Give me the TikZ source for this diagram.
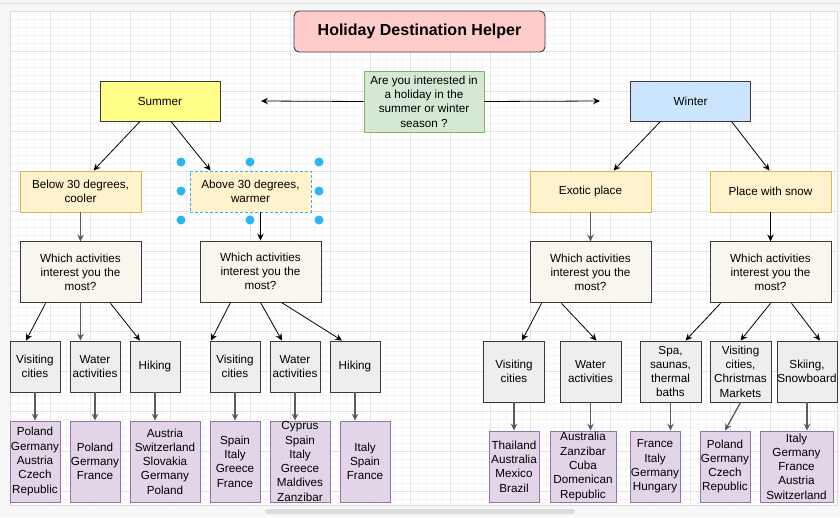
\documentclass[tikz,border=0pt]{standalone}
\usepackage{fontspec}
\setmainfont{Liberation Sans}
\usetikzlibrary{arrows.meta,positioning}
\definecolor{cLine}    {HTML}{36393D}
\definecolor{cTitle}   {HTML}{FFCCCC}
\definecolor{cAsk}     {HTML}{D5E8D4}
\definecolor{cAskLine} {HTML}{82B366}
\definecolor{cSummer}  {HTML}{FFFF88}
\definecolor{cWinter}  {HTML}{CCE5FF}
\definecolor{cKind}    {HTML}{FFF2CC}
\definecolor{cKindLine}{HTML}{D6B656}
\definecolor{cWhich}   {HTML}{F9F7ED}
\definecolor{cAct}     {HTML}{EEEEEE}
\definecolor{cDest}    {HTML}{E1D5E7}
\definecolor{cDestLine}{HTML}{9673A6}
\definecolor{cArrow}   {HTML}{5A5A5A}
\definecolor{cGridMin} {HTML}{F4F4F4}
\definecolor{cGridMaj} {HTML}{E2E2E2}
\definecolor{cBack}    {HTML}{F7F7F7}
\definecolor{cEdge}    {HTML}{DDDDDD}
\definecolor{cThumb}   {HTML}{DCDCDC}
\definecolor{cSel}     {HTML}{29B6F2}

\begin{document}
\begin{tikzpicture}[
  x=1pt, y=-1pt,
  font=\fontsize{11.7}{14.3}\selectfont,
  box/.style={
    draw=cLine, line width=0.9pt, align=center, inner xsep=0pt, inner ysep=1pt},
  title/.style ={box, rounded corners=5pt, fill=cTitle, minimum width=251pt,
                 minimum height=41pt, font=\fontsize{16}{19}\selectfont\bfseries},
  ask/.style   ={box, draw=cAskLine, fill=cAsk, minimum width=120pt, minimum height=61pt},
  season/.style={box, minimum width=120pt, minimum height=40pt},
  kind/.style  ={box, draw=cKindLine, fill=cKind, minimum width=121pt, minimum height=41pt},
  which/.style ={box, fill=cWhich, minimum width=121pt, minimum height=61pt},
  act/.style   ={box, fill=cAct, minimum width=50pt, minimum height=51pt},
  actw/.style  ={act, minimum width=61pt, minimum height=61pt},
  dest/.style  ={box, draw=cDestLine, fill=cDest, minimum width=50pt, minimum height=81pt},
  destw/.style ={dest, minimum height=71pt},
  ar/.style    ={-{Stealth[length=7pt,width=6.5pt,inset=2.5pt]}, line width=0.8pt},
  arg/.style   ={ar, draw=cArrow, line width=1.3pt},
  gridmin/.style={cGridMin, line width=0.6pt},
  gridmaj/.style={cGridMaj, line width=0.8pt},
  handle/.style={fill=cSel},
]
\useasboundingbox (0,0) rectangle (840,517);

% ---------------------------------------------------------------- canvas
\fill[cBack] (0,0) rectangle (840,517);
\draw[cEdge] (0,3.5) -- (840,3.5);
\fill[white] (10,11) rectangle (837,505);
\foreach \gx in {10,18,...,834} \draw[gridmin] (\gx,11) -- (\gx,505);
\foreach \gy in {11,19,...,503} \draw[gridmin] (10,\gy) -- (837,\gy);
\foreach \gx in {10,50,...,810} \draw[gridmaj] (\gx,11) -- (\gx,505);
\foreach \gy in {11,51,...,491} \draw[gridmaj] (10,\gy) -- (837,\gy);
\draw[cEdge] (10,11) rectangle (837,505);
\fill[cThumb, rounded corners=2.5pt] (265,509) rectangle (575,514);

% ---------------------------------------------------------------- title + question
\node[title] (head) at (419.5,31.5) {Holiday Destination Helper};
\node[ask] (ask) at (424,101.5) {Are you interested in\\a holiday in the\\summer or winter\\season ?};

\node[season, fill=cSummer] (summer) at (160,101)   {Summer};
\node[season, fill=cWinter] (winter) at (690.5,101) {Winter};
\coordinate (toSummer) at (261,101);
\coordinate (toWinter) at (600,101);

% ---------------------------------------------------------------- kind of place
\node[kind] (cool)   at (80.5,191.5)  {Below 30 degrees,\\cooler};
\node[kind, draw=cSel, dash pattern=on 3pt off 2pt] (warm) at (250.5,191.5) {Above 30 degrees,\\warmer};
\node[kind] (exotic) at (590.5,191.5) {Exotic place};
\node[kind] (snow)   at (770.5,191.5) {Place with snow};

% selection handles round the edited box
\foreach \hx/\hy in {181/162,250/162,319/162,181/191,319/191,181/220,250/220,319/220}
  \fill[handle] (\hx,\hy) circle (4.5pt);

% ---------------------------------------------------------------- questions
\node[which, below=29pt of cool]   (qCool) {Which activities\\interest you the\\most?};
\node[which] (qWarm) at (260.5,271.5) {Which activities\\interest you the\\most?};
\node[which, below=29pt of exotic] (qExo)  {Which activities\\interest you the\\most?};
\node[which, below=29pt of snow]   (qSnow) {Which activities\\interest you the\\most?};

% ---------------------------------------------------------------- activities
\node[act] (cityCool)  at (35,366.5)  {Visiting\\cities};
\node[act] (waterCool) at (95,366.5)  {Water\\activities};
\node[act] (hikeCool)  at (155,366.5) {Hiking};
\node[act] (cityWarm)  at (235,366.5) {Visiting\\cities};
\node[act] (waterWarm) at (295,366.5) {Water\\activities};
\node[act] (hikeWarm)  at (355,366.5) {Hiking};

\node[actw] (cityExo)    at (514,371.5)   {Visiting\\cities};
\node[actw] (waterExo)   at (590.5,371.5) {Water\\activities};
\node[actw] (spaSnow)    at (670.5,371.5) {Spa,\\saunas,\\thermal\\baths};
\node[actw] (marketSnow) at (740.5,371.5) {Visiting\\cities,\\Christmas\\Markets};
\node[actw, minimum width=60pt] (skiSnow) at (807,371.5) {Skiing,\\Snowboard};

% ---------------------------------------------------------------- destinations
\node[dest] (pCityCool)  at (35,461.5)  {Poland\\Germany\\Austria\\Czech\\Republic};
\node[dest] (pWaterCool) at (95,461.5)  {Poland\\Germany\\France};
\node[dest, minimum width=70pt] (pHikeCool) at (165,461.5)
  {Austria\\Switzerland\\Slovakia\\Germany\\Poland};
\node[dest] (pCityWarm)  at (235,461.5) {Spain\\Italy\\Greece\\France};
\node[dest, minimum width=60pt,
  label={[align=center]center:Cyprus\\Spain\\Italy\\Greece\\Maldives\\Zanzibar}]
  (pWaterWarm) at (300,461.5) {};
\node[dest] (pHikeWarm)  at (365,461.5) {Italy\\Spain\\France};

\node[destw] (pCityExo)    at (514,466.5) {Thailand\\Australia\\Mexico\\Brazil};
\node[destw, minimum width=66pt] (pWaterExo) at (583,466.5)
  {Australia\\Zanzibar\\Cuba\\Domenican\\Republic};
\node[destw] (pSpaSnow)    at (655,466.5) {France\\Italy\\Germany\\Hungary};
\node[destw] (pMarketSnow) at (725,466.5) {Poland\\Germany\\Czech\\Republic};
\node[destw, minimum width=73pt] (pSkiSnow) at (796.5,466.5)
  {Italy\\Germany\\France\\Austria\\Switzerland};

% ---------------------------------------------------------------- arrows
\draw[ar] (ask.west) -- (toSummer);
\draw[ar] (ask.east) -- (toWinter);

\draw[ar] ([xshift=-20pt]summer.south) -- ([xshift=13pt]cool.north);
\draw[ar] ([xshift=11pt]summer.south)  -- ([xshift=-40pt]warm.north);
\draw[ar] ([xshift=-30pt]winter.south) -- ([xshift=23pt]exotic.north);
\draw[ar] ([xshift=41pt]winter.south)  -- ([xshift=-1pt]snow.north);

\draw[arg] (cool) -- (qCool);
\draw[ar]  (qWarm.north |- warm.south) -- (qWarm.north);
\draw[arg] (exotic) -- (qExo);
\draw[ar]  (snow) -- (qSnow);

\draw[ar]  ([xshift=-35pt]qCool.south) -- ([xshift=-9pt]cityCool.north);
\draw[arg] (qCool.south) -- (qCool.south |- waterCool.north);
\draw[ar]  ([xshift=30pt]qCool.south)  -- ([xshift=-15pt]hikeCool.north);
\draw[ar]  ([xshift=-30pt]qWarm.south) -- ([xshift=-24pt]cityWarm.north);
\draw[ar]  (qWarm.south)               -- ([xshift=-13pt]waterWarm.north);
\draw[ar]  ([xshift=21pt]qWarm.south)  -- ([xshift=-13pt]hikeWarm.north);
\draw[ar]  ([xshift=-49pt]qExo.south)  -- ([xshift=8pt]cityExo.north);
\draw[ar]  ([xshift=-29pt]qExo.south)  -- ([xshift=6pt]waterExo.north);
\draw[ar]  ([xshift=-50pt]qSnow.south) -- ([xshift=15pt]spaSnow.north);
\draw[ar]  (qSnow.south)               -- (marketSnow.north);
\draw[ar]  ([xshift=21pt]qSnow.south)  -- ([xshift=13pt]skiSnow.north);

\draw[arg] (cityCool)  -- (pCityCool);
\draw[arg] (waterCool) -- (pWaterCool);
\draw[arg] (hikeCool.south)  -- (hikeCool.south |- pHikeCool.north);
\draw[arg] (cityWarm)  -- (pCityWarm);
\draw[arg] (waterWarm.south) -- (waterWarm.south |- pWaterWarm.north);
\draw[arg] (hikeWarm.south)  -- (hikeWarm.south |- pHikeWarm.north);
\draw[arg] (cityExo)   -- (pCityExo);
\draw[arg] (waterExo.south)  -- (waterExo.south |- pWaterExo.north);
\draw[arg] (spaSnow.south)   -- (spaSnow.south |- pSpaSnow.north);
\draw[arg] (marketSnow.south) -- (pMarketSnow.north);
\draw[arg] (skiSnow.south)   -- (skiSnow.south |- pSkiSnow.north);

\end{tikzpicture}
\end{document}
